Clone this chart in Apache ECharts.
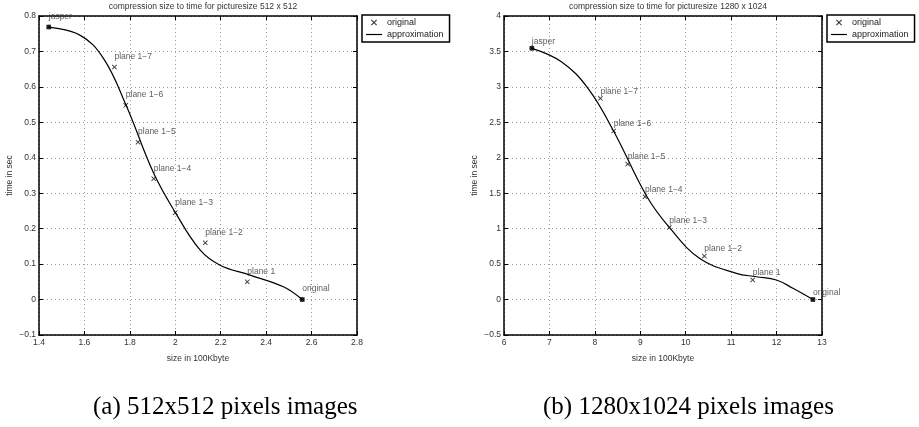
<!DOCTYPE html>
<html>
<head>
<meta charset="utf-8">
<script src="https://cdn.jsdelivr.net/npm/echarts@6/dist/echarts.min.js"></script>
<style>html,body{margin:0;padding:0;background:#fff}#c{width:919px;height:427px}</style>
</head>
<body>
<div id="c"></div>
<script>
// ---- data ----
const pointNames = ['jasper', 'plane 1\u22127', 'plane 1\u22126', 'plane 1\u22125', 'plane 1\u22124', 'plane 1\u22123', 'plane 1\u22122', 'plane 1', 'original'];

const leftX = [1.443, 1.732, 1.782, 1.836, 1.905, 2.0, 2.132, 2.317, 2.559];
const leftY = [0.769, 0.656, 0.548, 0.444, 0.341, 0.245, 0.160, 0.050, 0.0];
const leftCurveX = [1.443, 1.58, 1.683, 1.783, 1.905, 2.0, 2.109, 2.197, 2.329, 2.476, 2.559];
const leftCurveY = [0.768, 0.746, 0.681, 0.549, 0.356, 0.246, 0.140, 0.097, 0.069, 0.036, 0.0];

const rightX = [6.613, 8.122, 8.415, 8.723, 9.104, 9.64, 10.41, 11.474, 12.80];
const rightY = [3.544, 2.839, 2.378, 1.912, 1.451, 1.017, 0.614, 0.276, 0.0];
const rightCurveX = [6.613, 7.263, 7.849, 8.42, 9.148, 9.64, 10.31, 11.115, 11.556, 11.996, 12.36, 12.80];
const rightCurveY = [3.544, 3.355, 2.98, 2.368, 1.45, 1.017, 0.58, 0.37, 0.322, 0.276, 0.159, 0.0];

const leftXTicks = {min: 1.4, max: 2.8, interval: 0.2};
const leftYTicks = {min: -0.1, max: 0.8, interval: 0.1};
const rightXTicks = {min: 6, max: 13, interval: 1};
const rightYTicks = {min: -0.5, max: 4, interval: 0.5};

const titles = ['compression size to time for picturesize 512 x 512', 'compression size to time for picturesize 1280 x 1024'];
const captions = ['(a) 512x512 pixels images', '(b) 1280x1024 pixels images'];
const xName = 'size in 100Kbyte';
const yName = 'time in sec';

// ---- chart ----
const FONT = 'Liberation Sans, Arial, Helvetica, sans-serif';
const SERIF = 'Liberation Serif, DejaVu Serif, serif';
const XPATH = 'path://M0,1 L1,0 L4,3 L7,0 L8,1 L5,4 L8,7 L7,8 L4,5 L1,8 L0,7 L3,4 Z';
const LINEPATH = 'path://M0,0 L16,0 L16,1.2 L0,1.2 Z';
const fmt = v => String(Math.round(v * 1000) / 1000).replace('-', '\u2212');

const grids = [
  {left: 39, top: 16, width: 318, height: 319},
  {left: 504, top: 16, width: 318, height: 319}
];

function axesFor(i, xt, yt) {
  const xs = [], ys = [];
  const labelStyle = {fontSize: 8.5, color: '#333', fontFamily: FONT, formatter: fmt};
  const line = {show: true, onZero: false, lineStyle: {color: '#000', width: 1.5}};
  const tick = {show: true, inside: true, length: 4, lineStyle: {color: '#000'}};
  xs.push({
    type: 'value', gridIndex: i, min: xt.min, max: xt.max, interval: xt.interval,
    position: 'bottom',
    name: xName, nameLocation: 'middle', nameGap: 19,
    nameTextStyle: {fontSize: 8.5, color: '#333', fontFamily: FONT},
    axisLine: line, axisTick: tick,
    axisLabel: Object.assign({margin: 3}, labelStyle),
    splitLine: {show: true, lineStyle: {color: '#999', type: [1, 3], width: 1}}
  });
  xs.push({
    type: 'value', gridIndex: i, min: xt.min, max: xt.max, interval: xt.interval,
    position: 'top',
    axisLine: line, axisTick: tick,
    axisLabel: {show: false}, splitLine: {show: false}
  });
  ys.push({
    type: 'value', gridIndex: i, min: yt.min, max: yt.max, interval: yt.interval,
    position: 'left',
    name: yName, nameLocation: 'middle', nameGap: 25, nameRotate: 90,
    nameTextStyle: {fontSize: 8.5, color: '#333', fontFamily: FONT},
    axisLine: line, axisTick: tick,
    axisLabel: Object.assign({margin: 3}, labelStyle),
    splitLine: {show: true, lineStyle: {color: '#999', type: [1, 3], width: 1}}
  });
  ys.push({
    type: 'value', gridIndex: i, min: yt.min, max: yt.max, interval: yt.interval,
    position: 'right',
    axisLine: line, axisTick: tick,
    axisLabel: {show: false}, splitLine: {show: false}
  });
  return {xs, ys};
}

const a0 = axesFor(0, leftXTicks, leftYTicks);
const a1 = axesFor(1, rightXTicks, rightYTicks);

function pts(xa, ya) { return xa.map((x, k) => ({name: pointNames[k], value: [x, ya[k]]})); }
function curve(xa, ya) { return xa.map((x, k) => [x, ya[k]]); }
function ends(xa, ya) { return [[xa[0], ya[0]], [xa[xa.length - 1], ya[ya.length - 1]]]; }

function seriesFor(axisIdx, px, py, cx, cy, labelDy) {
  return [
    {
      type: 'line', name: 'approximation', xAxisIndex: axisIdx, yAxisIndex: axisIdx,
      data: curve(cx, cy), smooth: 0.4, symbol: 'none',
      lineStyle: {color: '#000', width: 1.2}, itemStyle: {color: '#000'},
      z: 3, silent: true
    },
    {
      type: 'scatter', name: 'original', xAxisIndex: axisIdx, yAxisIndex: axisIdx,
      data: pts(px, py), symbol: XPATH, symbolSize: 5,
      itemStyle: {color: '#000'},
      label: {
        show: true, position: 'right', distance: 0, offset: [-2.5, labelDy],
        formatter: '{b}', fontSize: 8.5, color: '#333', fontFamily: FONT
      },
      z: 4, silent: true
    },
    {
      type: 'scatter', name: 'ends', xAxisIndex: axisIdx, yAxisIndex: axisIdx,
      data: ends(px, py), symbol: 'circle', symbolSize: 5,
      itemStyle: {color: '#000'}, z: 5, silent: true
    }
  ];
}

const legendCommon = {
  orient: 'vertical', top: 15,
  padding: [3, 6, 3, 4], itemGap: 3, itemWidth: 16, itemHeight: 6,
  borderColor: '#000', borderWidth: 1.5, borderRadius: 0,
  backgroundColor: '#fff',
  textStyle: {fontSize: 9, color: '#222', fontFamily: FONT},
  selectedMode: false,
  data: [{name: 'original', icon: XPATH}, {name: 'approximation', icon: LINEPATH}]
};

const option = {
  animation: false,
  backgroundColor: '#fff',
  title: [
    {text: titles[0], left: 198, top: -3, textAlign: 'center', textStyle: {fontSize: 8.5, fontWeight: 'normal', color: '#333', fontFamily: FONT}},
    {text: titles[1], left: 663, top: -3, textAlign: 'center', textStyle: {fontSize: 8.5, fontWeight: 'normal', color: '#333', fontFamily: FONT}},
    {text: captions[0], left: 88, top: 390, textStyle: {fontSize: 25, fontWeight: 'normal', color: '#000', fontFamily: SERIF}},
    {text: captions[1], left: 538, top: 390, textStyle: {fontSize: 25, fontWeight: 'normal', color: '#000', fontFamily: SERIF}}
  ],
  legend: [
    Object.assign({left: 362, seriesIndex: [0, 1, 2]}, legendCommon),
    Object.assign({left: 827, seriesIndex: [3, 4, 5]}, legendCommon)
  ],
  grid: grids,
  xAxis: a0.xs.concat(a1.xs),
  yAxis: a0.ys.concat(a1.ys),
  series: seriesFor(0, leftX, leftY, leftCurveX, leftCurveY, -10.5)
    .concat(seriesFor(2, rightX, rightY, rightCurveX, rightCurveY, -7))
};

const chart = echarts.init(document.getElementById('c'), null, {renderer: 'canvas'});
chart.setOption(option);
</script>
</body>
</html>
